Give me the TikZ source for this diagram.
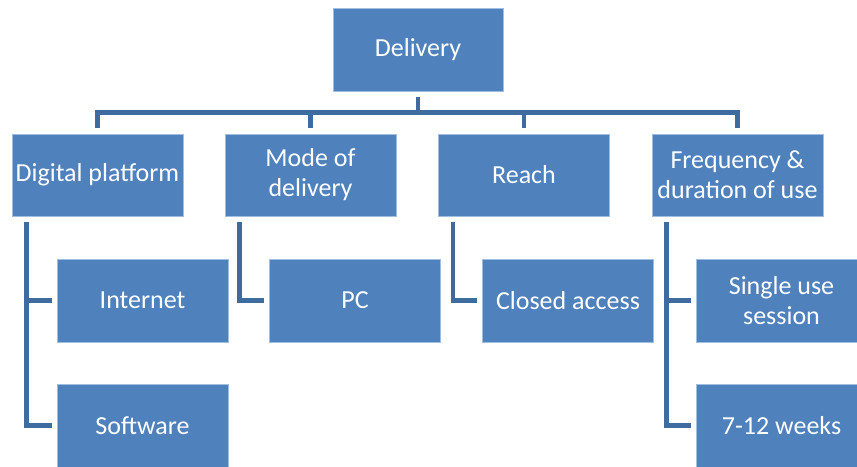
\documentclass[tikz,border=0pt]{standalone}
\usepackage{fontspec}
\setmainfont{Carlito}
\usetikzlibrary{calc}
\definecolor{boxblue}{RGB}{79,129,189}
\definecolor{boxedge}{RGB}{160,190,225}
\definecolor{linkblue}{RGB}{62,108,160}
\tikzset{
  box/.style={rectangle, fill=boxblue, draw=boxedge, line width=0.6pt,
    minimum width=171pt, minimum height=83pt, inner sep=2pt,
    text=white, align=center,
    font=\fontsize{26}{30}\selectfont},
  conn/.style={draw=linkblue, line width=4.5pt, line join=miter, line cap=butt}
}
\begin{document}
\begin{tikzpicture}[x=1pt, y=-1pt]
  \useasboundingbox (0,0) rectangle (857,466);
  \clip (0,0) rectangle (857,466);

  % top
  \node[box, minimum width=170pt] (del) at (418,49.5) {Delivery};

  % second row
  \node[box, minimum height=82pt] (dp)    at (97.5,175)  {Digital platform};
  \node[box, minimum height=82pt] (mode)  at (310.5,175) {Mode of\\delivery};
  \node[box, minimum height=82pt] (reach) at (524,175)   {Reach};
  \node[box, minimum height=82pt] (freq)  at (737.5,175) {Frequency \&\\duration of use};

  % third row
  \node[box] (inet)   at (142.5,300.5) {Internet};
  \node[box] (soft)   at (142.5,425.5) {Software};
  \node[box] (pc)     at (355,300.5)   {PC};
  \node[box] (closed) at (568,300.5)   {Closed access};
  \node[box] (single) at (781.5,300.5) {Single use\\session};
  \node[box] (weeks)  at (781.5,425.5) {7-12 weeks};

  % bus from the top box to the second row
  \coordinate (bus) at ($(del.south)+(0,21)$);
  \draw[conn] ($(del.south)+(0,6)$) -- (bus);
  \foreach \n in {dp,mode,reach,freq}
    \draw[conn] (bus) -| ($(\n.north)+(0,-6)$);

  % branches to the third row
  \draw[conn] ($(dp.south west)+(15,6)$) |- ($(inet.west)+(-5,0)$);
  \draw[conn] ($(dp.south west)+(15,6)$) |- ($(soft.west)+(-5,0)$);
  \draw[conn] ($(mode.south west)+(15,6)$) |- ($(pc.west)+(-5,0)$);
  \draw[conn] ($(reach.south west)+(15,6)$) |- ($(closed.west)+(-5,0)$);
  \draw[conn] ($(freq.south west)+(15,6)$) |- ($(single.west)+(-5,0)$);
  \draw[conn] ($(freq.south west)+(15,6)$) |- ($(weeks.west)+(-5,0)$);
\end{tikzpicture}
\end{document}
